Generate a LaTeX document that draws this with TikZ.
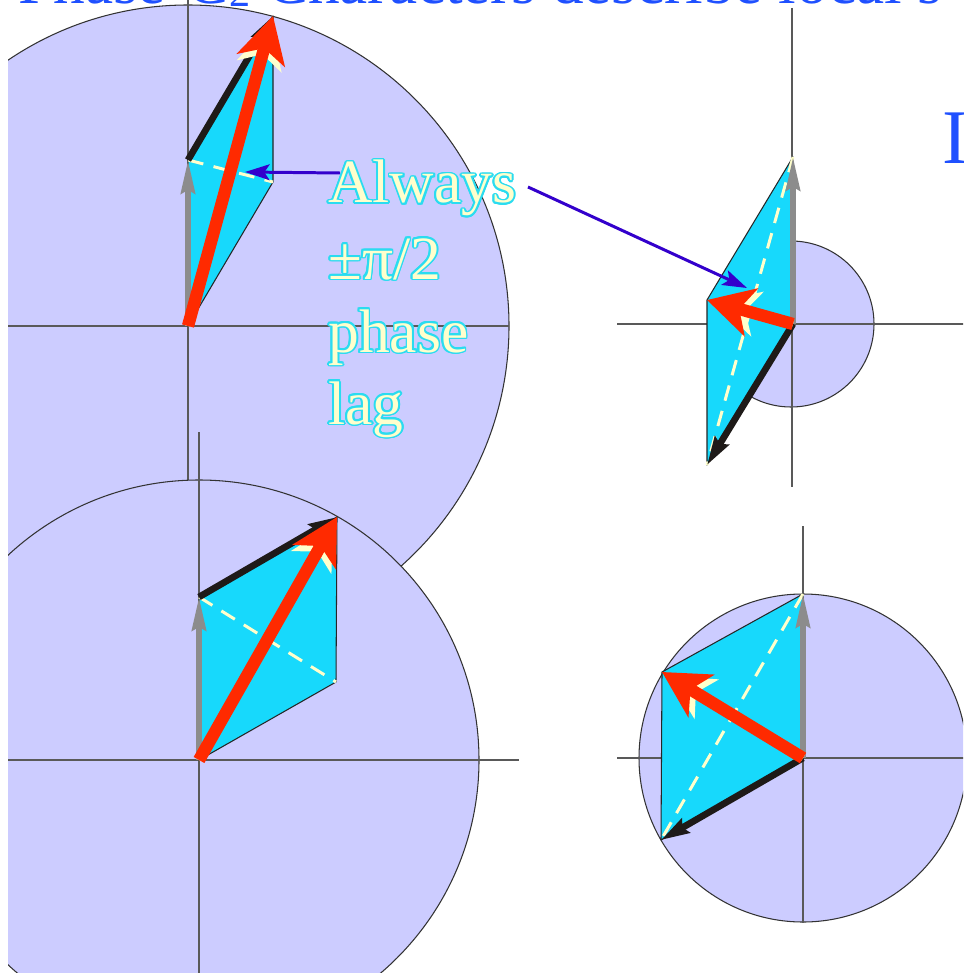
\documentclass[tikz,border=0pt]{standalone}
\usepackage{fontspec}
\setmainfont{Liberation Serif}
\usepackage[copies]{contour}
\usetikzlibrary{arrows.meta,calc}
\definecolor{lav}{HTML}{CCCCFF}
\definecolor{cyanf}{HTML}{17D9FC}
\definecolor{redv}{HTML}{FF2A00}
\definecolor{grayv}{HTML}{8C8C8C}
\definecolor{blackv}{HTML}{1E1A18}
\definecolor{cream}{HTML}{FFFFCC}
\definecolor{notec}{HTML}{3300CC}
\definecolor{titleblue}{HTML}{1F50FF}
\definecolor{outl}{HTML}{2ADCF0}
\contourlength{1pt}
\begin{document}
\begin{tikzpicture}[x=0.02cm,y=-0.02cm,
 disk/.style={fill=lav,draw=black!80,line width=0.6pt},
 axisline/.style={draw=black!65,line width=0.7pt},
 para/.style={fill=cyanf,draw=black!85,line width=0.6pt,line join=round},
 diffline/.style={draw=cream,line width=1.7pt,dash pattern=on 9pt off 6pt},
 vgray/.style={draw=grayv,line width=3.2pt,-{Stealth[length=19pt,width=8pt,inset=2pt]}},
 vblack/.style={draw=blackv,line width=3.8pt,-{Stealth[length=16pt,width=9pt,inset=2pt]}},
 vred/.style={draw=redv,line width=7pt,-{Stealth[length=26pt,width=28pt,inset=7pt]}},
 vshadow/.style={draw=cream,line width=4pt,-{Stealth[length=25pt,width=26pt,inset=7pt]}},
 pointer/.style={draw=notec,line width=1.7pt,-{Stealth[length=14pt,width=9pt,inset=3pt]}},
 notetext/.style={anchor=base west,inner sep=0pt,text=cream,font=\fontsize{35}{41}\selectfont},
 bluetext/.style={anchor=base west,inner sep=0pt,text=titleblue},
]
\useasboundingbox (0,0) rectangle (963,973);
\fill[white] (0,0) rectangle (963,973);
\clip (8,0) rectangle (963,973);

% ---------- points ----------
\coordinate (O1) at (188,326); \coordinate (A1) at (188,160);
\coordinate (B1) at (273,182); \coordinate (S1) at (273,16);
\coordinate (O2) at (199,760); \coordinate (A2) at (199,597);
\coordinate (B2) at (336,682); \coordinate (S2) at (337,517);
\coordinate (O3) at (793,324); \coordinate (A3) at (793,157);
\coordinate (B3) at (707,465); \coordinate (S3) at (707,300);
\coordinate (C3) at (791,324);
\coordinate (O4) at (803,758); \coordinate (A4) at (803,594);
\coordinate (B4) at (661,840); \coordinate (S4) at (662,672);

% ---------- discs and axes ----------
\path[disk] (O1) circle[radius=321];
\draw[axisline] (-10,326) -- (509,326);
\draw[axisline] (188,-5) -- (188,647);
\path[disk] (O2) circle[radius=280];
\draw[axisline] (-10,760) -- (519,760);
\draw[axisline] (199,432) -- (199,990);
\path[disk] (C3) circle[radius=83];
\draw[axisline] (617,324) -- (980,324);
\draw[axisline] (792,8) -- (792,487);
\path[disk] (O4) circle[radius=164];
\draw[axisline] (617,758) -- (980,758);
\draw[axisline] (803,526) -- (803,923);

% ---------- diagram 1 ----------
\path[para] (O1) -- (A1) -- (S1) -- (B1) -- cycle;
\draw[diffline] (A1) -- (B1);
\draw[vgray] (O1) -- (A1);
\draw[vblack] (A1) -- (S1);
\draw[vshadow] (O1) -- ($(S1)!0.16cm!(O1)$);
\draw[vred] (O1) -- (S1);

% ---------- diagram 2 ----------
\path[para] (O2) -- (A2) -- (S2) -- (B2) -- cycle;
\draw[diffline] (A2) -- (B2);
\draw[vgray] (O2) -- (A2);
\draw[vblack] (A2) -- (S2);
\draw[vshadow] (O2) -- ($(S2)!0.16cm!(O2)$);
\draw[vred] (O2) -- (S2);

% ---------- diagram 3 ----------
\path[para] (O3) -- (A3) -- (S3) -- (B3) -- cycle;
\draw[diffline] (A3) -- (B3);
\draw[vgray] (O3) -- (A3);
\draw[vblack] (O3) -- (B3);
\draw[vshadow] (O3) -- ($(S3)!0.16cm!(O3)$);
\draw[vred] (O3) -- (S3);

% ---------- diagram 4 ----------
\path[para] (O4) -- (A4) -- (S4) -- (B4) -- cycle;
\draw[diffline] (A4) -- (B4);
\draw[vgray] (O4) -- (A4);
\draw[vblack] (O4) -- (B4);
\draw[vshadow] (O4) -- ($(S4)!0.16cm!(O4)$);
\draw[vred] (O4) -- (S4);

% ---------- annotation ----------
\coordinate (q1) at (340,173); \coordinate (p1) at (245,172);
\coordinate (q2) at (528,187); \coordinate (p2) at (747,288);
\draw[pointer] (q1) -- (p1);
\draw[pointer] (q2) -- (p2);
\node[notetext] (l1) at (328,203) {\contour{outl}{Always}};
\node[notetext] (l2) at (328,279) {\contour{outl}{±π/2}};
\node[notetext] (l3) at (328,352) {\contour{outl}{phase}};
\node[notetext] (l4) at (328,424) {\contour{outl}{lag}};

% ---------- blue texts ----------
\node[bluetext,font=\fontsize{36}{40}\selectfont] (title) at (18,4) {Phase-C\raisebox{-1.5pt}{\fontsize{24}{24}\selectfont 2} Characters describe local s};
\node[bluetext,font=\fontsize{44}{50}\selectfont] (iletter) at (942,164) {I};
\end{tikzpicture}
\end{document}
